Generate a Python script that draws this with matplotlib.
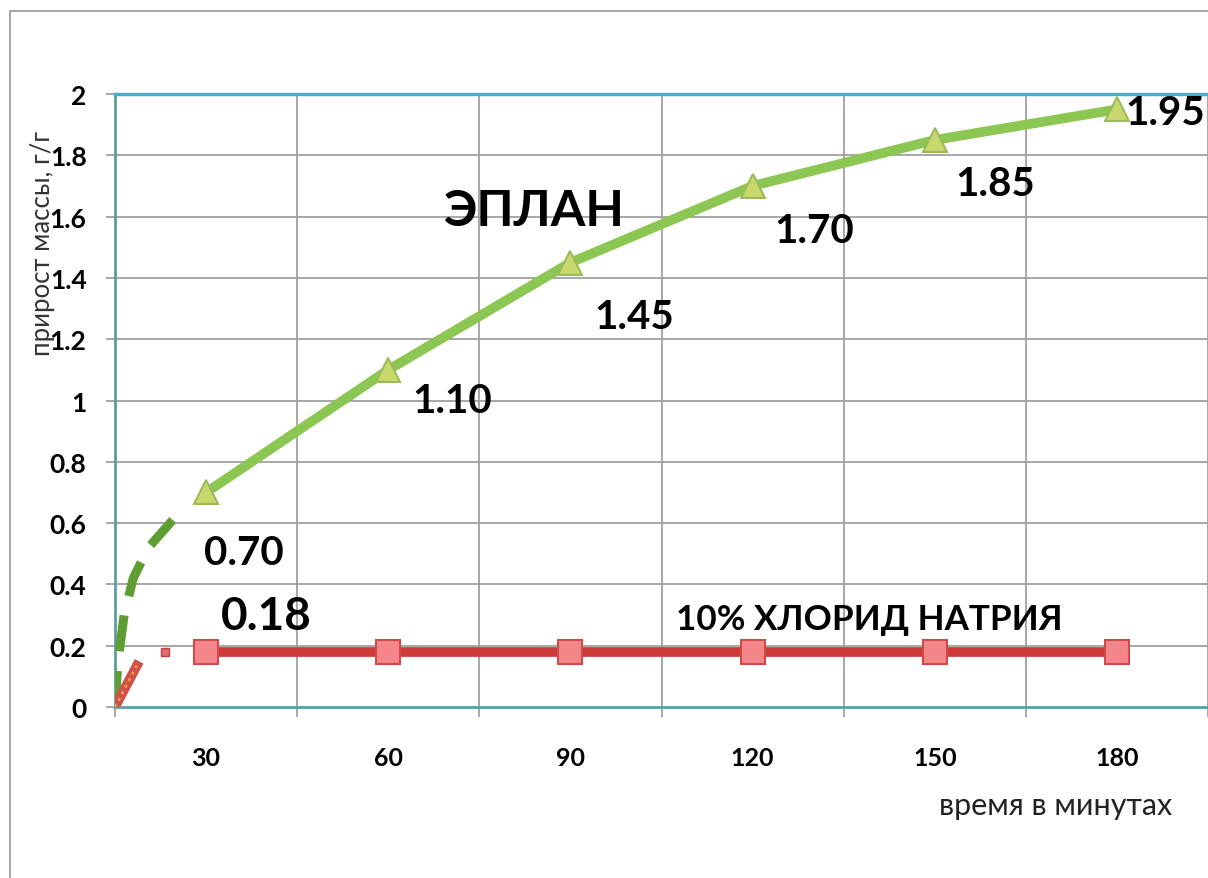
import matplotlib
matplotlib.use("Agg")
import matplotlib.pyplot as plt
from matplotlib.lines import Line2D

# data
minutes = [30, 60, 90, 120, 150, 180]
eplan = [0.70, 1.10, 1.45, 1.70, 1.85, 1.95]
nacl = [0.18, 0.18, 0.18, 0.18, 0.18, 0.18]
eplan_labels = ["0.70", "1.10", "1.45", "1.70", "1.85", "1.95"]
nacl_label = "0.18"

# hand-drawn lead-ins near the origin
eplan_lead_x = [15, 15.5, 16.5, 18, 20.5, 24.5]
eplan_lead_y = [0, 0.15, 0.30, 0.42, 0.52, 0.61]
nacl_lead_x = [15, 18.6]
nacl_lead_y = [0, 0.135]
nacl_dot_x = [23.3]
nacl_dot_y = [0.18]

plt.rcParams['font.family'] = ['Lato', 'DejaVu Sans']

fig = plt.figure(figsize=(12.08, 8.79), dpi=100)
ax = fig.add_axes([115 / 1208, 1 - 708 / 879, 1093 / 1208, 613 / 879])

# outer frame of the chart area
fig.add_artist(Line2D([10 / 1208, 10 / 1208, 1.0], [0.0, 1 - 12 / 879, 1 - 12 / 879],
                      color='#a8a8a8', lw=1.5, transform=fig.transFigure))

ax.set_xlim(15, 193)
ax.set_ylim(0, 2)

# grid
for b in range(45, 196, 30):
    ax.axvline(b, color='#a0a0a0', lw=1.3, zorder=1)
for yv in [0.2, 0.4, 0.6, 0.8, 1.0, 1.2, 1.4, 1.6, 1.8]:
    ax.axhline(yv, color='#a0a0a0', lw=1.3, zorder=1)

# lines
ax.plot(eplan_lead_x, eplan_lead_y, color='#5e9e32', lw=6.5, dashes=(4, 2.2),
        solid_capstyle='butt', zorder=3)
ax.plot(nacl_lead_x, nacl_lead_y, color='#d0504a', lw=7, zorder=3)
ax.plot(nacl_lead_x, nacl_lead_y, color='#f0a040', lw=2, ls=':', zorder=3)
ax.plot(nacl_dot_x, nacl_dot_y, 's', color='#e07070', mec='#c04040', ms=6, zorder=3)

ax.plot(minutes, eplan, color='#8cc653', lw=7, zorder=4,
        marker='^', ms=17, mfc='#c9d86c', mec='#9bbb59', mew=1.5)
ax.plot(minutes, nacl, color='#cc3a3a', lw=7, zorder=4,
        marker='s', ms=17, mfc='#f4868a', mec='#d04a4a', mew=1.5)

# value labels
offsets = [(-1.5, -43), (17, -22), (17, -39), (16, -32), (15, -31), (6, -2)]
for xv, yv, lab, off in zip(minutes, eplan, eplan_labels, offsets):
    ax.annotate(lab, (xv, yv), xytext=off, textcoords='offset points',
                ha='left', va='center', fontsize=29, fontweight='bold',
                color='black', zorder=6, annotation_clip=False)
ax.annotate(nacl_label, (minutes[0], nacl[0]), xytext=(11, 26), textcoords='offset points',
            ha='left', va='center', fontsize=33, fontweight='bold', color='black', zorder=6)

ax.text(84, 1.62, "ЭПЛАН", fontsize=36, fontweight='bold', ha='center', va='center', zorder=6)
ax.text(139.3, 0.287, "10% ХЛОРИД НАТРИЯ", fontsize=25.2, fontweight='bold',
        ha='center', va='center', zorder=6)

# axes
ax.set_xticks(minutes)
ax.set_xticklabels([str(m) for m in minutes], fontsize=18, fontweight='bold')
ax.tick_params(axis='x', length=0, pad=28)
ax.set_xticks(range(15, 196, 30), minor=True)
ax.tick_params(axis='x', which='minor', length=7, color='#a0a0a0', width=1.3)
ax.set_yticks([0, 0.2, 0.4, 0.6, 0.8, 1.0, 1.2, 1.4, 1.6, 1.8, 2.0])
ax.set_yticklabels(['0', '0.2', '0.4', '0.6', '0.8', '1', '1.2', '1.4', '1.6', '1.8', '2'],
                   fontsize=19, fontweight='bold')
ax.tick_params(axis='y', length=6.5, color='#a0a0a0', width=1.3, pad=14)

ax.spines['left'].set_color('#5f9ea0')
ax.spines['left'].set_linewidth(2)
ax.spines['bottom'].set_color('#5f9ea0')
ax.spines['bottom'].set_linewidth(2)
ax.spines['top'].set_color('#4bacc6')
ax.spines['top'].set_linewidth(2.5)
ax.spines['right'].set_visible(False)

fig.text(43 / 1208, 1 - 244 / 879, "прирост массы, г/г", rotation=90, fontsize=18.5,
         color='#333333', ha='center', va='center')
fig.text(1056 / 1208, 1 - 806 / 879, "время в минутах", fontsize=22,
         color='#222222', ha='center', va='center')

fig.savefig("out.png", dpi=100)
